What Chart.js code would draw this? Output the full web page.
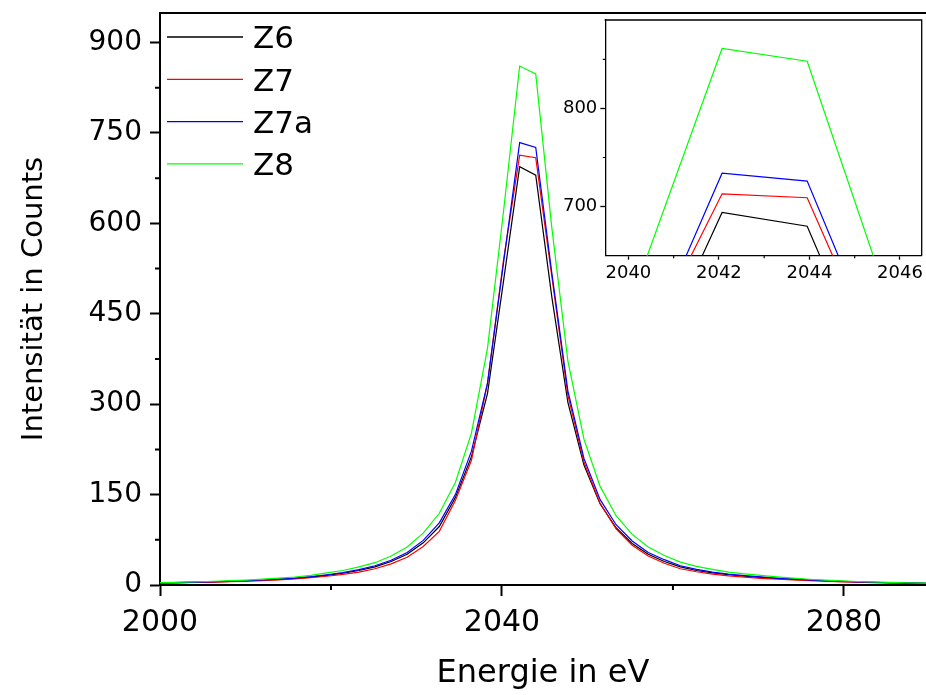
<!DOCTYPE html>
<html>
<head>
<meta charset="utf-8">
<script src="https://cdn.jsdelivr.net/npm/chart.js@4.4.1/dist/chart.umd.min.js"></script>
<style>
  html, body { margin: 0; padding: 0; background: #fff; }
  #wrap { position: relative; width: 926px; height: 695px; }
  #main { position: absolute; left: 0; top: 0; }
  #inset { position: absolute; left: 560px; top: 0; }
</style>
</head>
<body>
<div id="wrap">
  <canvas id="main" width="926" height="695"></canvas>
  <canvas id="inset" width="366" height="300"></canvas>
</div>
<script>
// energies of the measured points (eV)
const energy = [
  1996.95, 1998.83, 2000.71, 2002.59, 2004.47, 2006.35, 2008.23, 2010.11, 2011.99, 2013.87,
  2015.75, 2017.63, 2019.51, 2021.39, 2023.27, 2025.15, 2027.03, 2028.91, 2030.79, 2032.67,
  2034.55, 2036.43, 2038.31, 2040.19, 2042.07, 2043.95, 2045.83, 2047.71, 2049.59, 2051.47,
  2053.35, 2055.23, 2057.11, 2058.99, 2060.87, 2062.75, 2064.63, 2066.51, 2068.39, 2070.27,
  2072.15, 2074.03, 2075.91, 2077.79, 2079.67, 2081.55, 2083.43, 2085.31, 2087.19, 2089.07, 2090.95
];

// counts per series
const z6 = [
  2.8, 3.1, 3.5, 4.0, 4.6, 5.2, 5.9, 6.8, 7.9, 9.2,
  10.8, 13, 16, 19.5, 24, 30, 39, 51, 70, 97,
  145, 213, 318, 505, 694, 680, 478, 303, 199, 135,
  95, 69, 51, 39, 30, 24, 20, 17, 14.5, 12.5,
  10.8, 9.3, 8, 6.8, 5.8, 5, 4.3, 3.7, 3.2, 2.8, 2.4
];
const z7 = [
  2.6, 2.9, 3.3, 3.8, 4.3, 4.8, 5.5, 6.3, 7.3, 8.5,
  10.0, 12, 14.5, 17.5, 21.5, 27, 35, 46, 64, 89,
  140, 207, 335, 540, 713, 709, 512, 315, 204, 136,
  93, 66, 48, 36, 27, 22, 18, 15, 13, 11,
  9.6, 8.3, 7.2, 6.2, 5.3, 4.6, 4, 3.4, 3, 2.6, 2.3
];
const z7a = [
  2.9, 3.3, 3.7, 4.2, 4.8, 5.4, 6.2, 7.1, 8.3, 9.7,
  11.5, 13.8, 17, 20.5, 25.5, 32, 41, 54, 74, 103,
  150, 222, 335, 535, 734, 726, 518, 322, 210, 142,
  100, 73, 54, 42, 32, 26, 21.5, 18, 15.5, 13.5,
  11.5, 10, 8.5, 7.2, 6.2, 5.3, 4.6, 4, 3.4, 3, 2.6
];
const z8 = [
  3.2, 3.6, 4.1, 4.7, 5.4, 6.2, 7.1, 8.2, 9.6, 11.3,
  13.3, 16, 20, 24, 30, 37, 48, 63, 86, 119,
  170, 252, 393, 621, 861, 848, 593, 372, 242, 164,
  115, 84, 63, 49, 38, 31, 26, 21.5, 18.5, 16,
  13.5, 11.5, 9.5, 8, 6.8, 5.8, 5, 4.3, 3.7, 3.2, 2.8
];

const seriesNames = ['Z6', 'Z7', 'Z7a', 'Z8'];
const seriesValues = [z6, z7, z7a, z8];
const seriesColors = ['#000000', '#ff0000', '#0000ff', '#00ff00'];

// tick positions
const mainXTicks = [2000, 2040, 2080];
const mainXMinor = [2020, 2060];
const mainYMinor = [75, 225, 375, 525, 675, 825];
const insetXMinor = [2041, 2043, 2045];
const insetYMinor = [750, 850];

const FONT = 'DejaVu Sans';
const plain = v => String(v);

function makeSets() {
  return seriesNames.map((name, i) => ({
    label: name,
    data: energy.map((e, j) => ({ x: e, y: seriesValues[i][j] })),
    borderColor: seriesColors[i],
    backgroundColor: seriesColors[i],
    borderWidth: 1.2,
    pointRadius: 0,
    tension: 0,
    fill: false,
    order: seriesNames.length - i
  }));
}

// drop the extra room Chart.js keeps for end labels
function noPad(s) {
  s.paddingTop = 0; s.paddingBottom = 0; s.paddingLeft = 0; s.paddingRight = 0;
}

// short ticks between the labelled ones
const minorTicks = {
  id: 'minorTicks',
  afterDraw(chart, args, opts) {
    const { ctx, chartArea } = chart;
    const xs = chart.scales.x, ys = chart.scales.y;
    ctx.save();
    ctx.strokeStyle = '#000';
    ctx.lineWidth = opts.width;
    ctx.beginPath();
    opts.x.forEach(v => {
      const px = xs.getPixelForValue(v);
      ctx.moveTo(px, chartArea.bottom);
      ctx.lineTo(px, chartArea.bottom + opts.len);
    });
    opts.y.forEach(v => {
      const py = ys.getPixelForValue(v);
      ctx.moveTo(chartArea.left, py);
      ctx.lineTo(chartArea.left - opts.len, py);
    });
    ctx.stroke();
    ctx.restore();
  }
};

// frame lines not drawn by the axes
const frame = {
  id: 'frame',
  beforeDraw(chart, args, opts) {
    if (!opts.fill) return;
    const { ctx, chartArea: a } = chart;
    ctx.save();
    ctx.fillStyle = '#fff';
    ctx.fillRect(a.left, a.top, a.right - a.left, a.bottom - a.top);
    ctx.restore();
  },
  afterDraw(chart, args, opts) {
    const { ctx, chartArea: a } = chart;
    ctx.save();
    ctx.strokeStyle = '#000';
    ctx.lineWidth = opts.width;
    ctx.beginPath();
    ctx.moveTo(a.left - opts.width / 2, a.top);
    ctx.lineTo(a.right, a.top);
    if (opts.right) {
      ctx.lineTo(a.right, a.bottom);
    }
    ctx.stroke();
    ctx.restore();
  }
};

// legend inside the plot, upper left
const innerLegend = {
  id: 'innerLegend',
  afterDraw(chart, args, opts) {
    if (!opts.show) return;
    const { ctx, chartArea: a } = chart;
    ctx.save();
    ctx.font = opts.size + 'px "' + FONT + '"';
    ctx.textBaseline = 'alphabetic';
    ctx.textAlign = 'left';
    chart.data.datasets.forEach((ds, i) => {
      const y = a.top + opts.top + i * opts.gap;
      ctx.strokeStyle = ds.borderColor;
      ctx.lineWidth = 1.3;
      ctx.beginPath();
      ctx.moveTo(a.left + opts.x0, y);
      ctx.lineTo(a.left + opts.x1, y);
      ctx.stroke();
      ctx.fillStyle = '#000';
      ctx.fillText(ds.label, a.left + opts.tx, y + opts.size * 0.729 / 2);
    });
    ctx.restore();
  }
};

Chart.register(minorTicks, frame, innerLegend);

// main chart
new Chart(document.getElementById('main'), {
  type: 'line',
  data: { datasets: makeSets() },
  options: {
    responsive: false,
    animation: false,
    events: [],
    layout: { padding: { top: 13, right: 0, left: 0, bottom: 0 } },
    plugins: {
      legend: { display: false },
      tooltip: { enabled: false },
      minorTicks: { x: mainXMinor, y: mainYMinor, len: 5, width: 2 },
      frame: { width: 2, right: false, fill: false },
      innerLegend: { show: true, size: 31, top: 24, gap: 42.3, x0: 7, x1: 83, tx: 93 }
    },
    scales: {
      x: {
        type: 'linear',
        min: 2000,
        max: 2089.6,
        afterBuildTicks: s => { s.ticks = mainXTicks.map(v => ({ value: v })); },
        ticks: { font: { family: FONT, size: 30 }, color: '#000', padding: 9, maxRotation: 0, autoSkip: false, callback: plain },
        grid: { drawOnChartArea: false, tickLength: 11, tickWidth: 2, tickColor: '#000' },
        border: { width: 2, color: '#000' },
        title: { display: true, text: 'Energie in eV', color: '#000',
                 font: { family: FONT, size: 32, lineHeight: 1 }, padding: { top: 0, bottom: 5 } },
        afterFit: s => { s.height = 110; noPad(s); }
      },
      y: {
        min: 0,
        max: 949,
        ticks: { stepSize: 150, includeBounds: false, font: { family: FONT, size: 28 }, color: '#000', padding: 8, callback: plain },
        grid: { drawOnChartArea: false, tickLength: 10, tickWidth: 2, tickColor: '#000' },
        border: { width: 2, color: '#000' },
        title: { display: true, text: 'Intensität in Counts', color: '#000',
                 font: { family: FONT, size: 29, lineHeight: 1 }, padding: { top: 20, bottom: 0 } },
        afterFit: s => { s.width = 160; noPad(s); }
      }
    }
  }
});

// zoomed inset around the peak
new Chart(document.getElementById('inset'), {
  type: 'line',
  data: { datasets: makeSets() },
  options: {
    responsive: false,
    animation: false,
    events: [],
    layout: { padding: { top: 20, right: 4.3, left: 0, bottom: 0 } },
    plugins: {
      legend: { display: false },
      tooltip: { enabled: false },
      minorTicks: { x: insetXMinor, y: insetYMinor, len: 2.5, width: 1.2 },
      frame: { width: 1.3, right: true, fill: true },
      innerLegend: { show: false }
    },
    scales: {
      x: {
        type: 'linear',
        min: 2039.49,
        max: 2046.48,
        ticks: { stepSize: 2, includeBounds: false, font: { family: FONT, size: 18 }, color: '#000', padding: 3, maxRotation: 0, autoSkip: false, callback: plain },
        grid: { drawOnChartArea: false, tickLength: 4, tickWidth: 1.3, tickColor: '#000' },
        border: { width: 1.3, color: '#000' },
        afterFit: s => { s.height = 44.3; noPad(s); }
      },
      y: {
        min: 650,
        max: 890,
        ticks: { stepSize: 100, includeBounds: false, font: { family: FONT, size: 18 }, color: '#000', padding: 3, callback: plain },
        grid: { drawOnChartArea: false, tickLength: 5, tickWidth: 1.3, tickColor: '#000' },
        border: { width: 1.3, color: '#000' },
        afterFit: s => { s.width = 45.3; noPad(s); }
      }
    }
  }
});
</script>
</body>
</html>
